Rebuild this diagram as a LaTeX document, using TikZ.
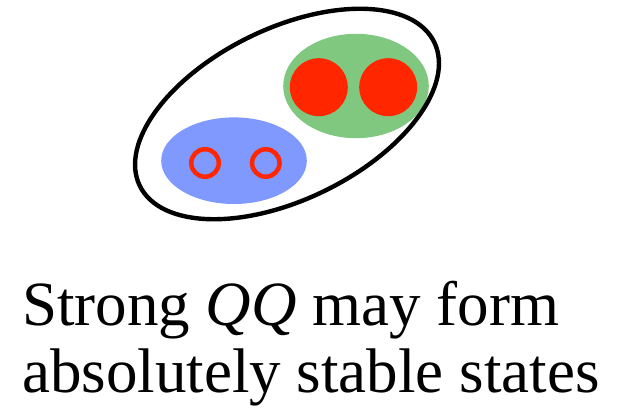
\documentclass[tikz,border=0pt]{standalone}
\usepackage{fontspec}
\setmainfont{Liberation Serif}
\usepackage{xcolor}
\usepackage{tikz}
\usetikzlibrary{shapes.geometric, positioning}
\definecolor{quark}{RGB}{255,38,0}
\definecolor{heavy}{RGB}{128,199,128}
\definecolor{light}{RGB}{128,153,255}
\definecolor{dark}{HTML}{000000}
\tikzstyle{blob}    = [ellipse, inner sep=0pt, outer sep=0pt]
\tikzstyle{fullq}   = [circle, inner sep=0pt, minimum size=58pt, fill=quark]
\tikzstyle{emptyq}  = [circle, inner sep=0pt, minimum size=27.5pt, draw=quark, line width=4.5pt]

\begin{document}
\begin{tikzpicture}[x=1pt, y=1pt]
  \useasboundingbox (0,0) rectangle (621,409);

  %% ── Heavy diquark ──
  \node[blob, fill=heavy, minimum width=145.6pt, minimum height=104.4pt] (heavyqq) at (356,323) {};
  \node[fullq] (q1) at (318.8,321.8) {};
  \node[fullq, right=11pt of q1] (q2) {};

  %% ── Light diquark ──
  \node[blob, fill=light, minimum width=145.6pt, minimum height=86.6pt] (lightqq) at (234,248.3) {};
  \node[emptyq] (qb1) at (205,246) {};
  \node[emptyq] (qb2) at (265.8,246) {};

  %% ── Bound state ──
  \node[blob, draw=dark, line width=4.4pt, minimum width=327.6pt,
        minimum height=171.2pt, rotate=26] (state) at (287,295) {};

  %% ── Caption ──
  \node[anchor=base west, align=left, inner sep=0pt,
        font=\fontsize{63}{67}\selectfont] (caption) at (22,16)
        {Strong \textit{QQ} may form\\absolutely stable states};

\end{tikzpicture}
\end{document}
